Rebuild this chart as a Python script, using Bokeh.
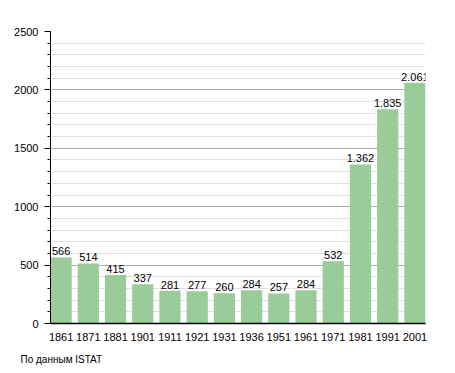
from bokeh.plotting import figure
from bokeh.models import ColumnDataSource, Range1d, FixedTicker, SingleIntervalTicker, Title
from bokeh.embed import file_html
from bokeh.resources import INLINE

years = ["1861", "1871", "1881", "1901", "1911", "1921", "1931", "1936", "1951", "1961", "1971", "1981", "1991", "2001"]
population = [566, 514, 415, 337, 281, 277, 260, 284, 257, 284, 532, 1362, 1835, 2061]
y_ticks = [0, 500, 1000, 1500, 2000, 2500]
source_note = "По данным  ISTAT"

FONT = "Liberation Sans"

labels = [f"{v:,}".replace(",", ".") for v in population]
xs = list(range(len(years)))
src = ColumnDataSource(dict(x=xs, y=population, label=labels))

p = figure(width=440, height=373, output_backend="svg", toolbar_location=None,
           x_range=Range1d(-0.39, len(years) - 1 + 0.39), y_range=Range1d(0, 2500),
           min_border_left=50, min_border_right=15, min_border_top=31, min_border_bottom=5)
p.outline_line_color = None
p.background_fill_color = "white"
p.border_fill_color = "white"

p.vbar(x="x", top="y", width=0.78, source=src, fill_color="#99CC99", line_color=None)
p.text(x="x", y="y", text="label", source=src, text_align="center", text_baseline="bottom",
       y_offset=-2, text_font_size="11px", text_color="black", text_font={"value": FONT})

# x axis
p.xaxis.ticker = FixedTicker(ticks=xs)
p.xaxis.major_label_overrides = {i: y for i, y in enumerate(years)}
p.xaxis.major_tick_line_color = None
p.xaxis.minor_tick_line_color = None
p.xaxis.axis_line_color = "black"
p.xaxis.axis_line_width = 1.5
p.xaxis.major_label_text_font_size = "11px"
p.xaxis.major_label_text_font = FONT
p.xaxis.major_label_text_color = "black"
p.xaxis.major_label_standoff = 3
p.xgrid.grid_line_color = None

# y axis
p.yaxis.ticker = SingleIntervalTicker(interval=500, num_minor_ticks=5)
p.yaxis.axis_line_color = "black"
p.yaxis.major_tick_in = 0
p.yaxis.major_tick_out = 6
p.yaxis.minor_tick_in = 0
p.yaxis.minor_tick_out = 3
p.yaxis.major_tick_line_color = "black"
p.yaxis.minor_tick_line_color = "black"
p.yaxis.major_label_text_font_size = "11px"
p.yaxis.major_label_text_font = FONT
p.yaxis.major_label_text_color = "black"
p.yaxis.major_label_standoff = 6
p.ygrid.grid_line_color = "#AAAAAA"
p.ygrid.minor_grid_line_color = "#E0E0E0"

note = Title(text=source_note, align="left", text_font_size="10px", text_font=FONT,
             text_font_style="normal", text_color="black", offset=-30, standoff=17)
p.add_layout(note, "below")

open("out.html", "w").write(file_html(p, INLINE))
